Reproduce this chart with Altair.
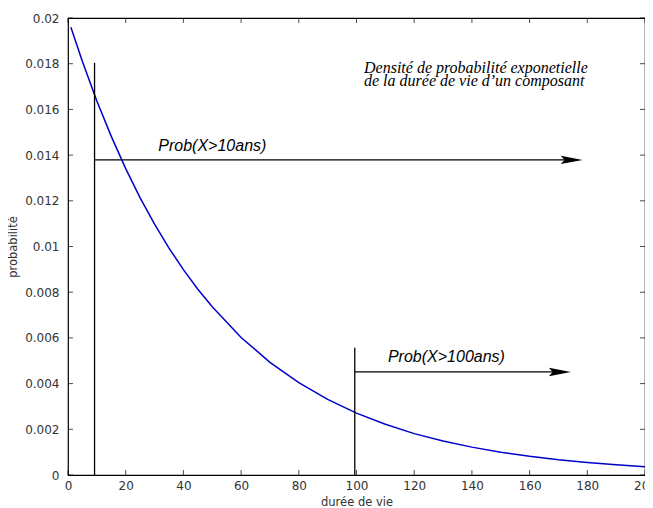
import altair as alt
import pandas as pd

# courbe
duree = [1, 5, 10, 15, 20, 25, 30, 35, 40, 45, 50, 60, 70, 80, 90, 100,
         110, 120, 130, 140, 150, 160, 170, 180, 190, 200]
proba = [0.0196, 0.0181, 0.01637, 0.01482, 0.01341, 0.01213, 0.01098, 0.00993,
         0.00899, 0.00813, 0.00736, 0.00602, 0.00493, 0.00404, 0.00331, 0.00271,
         0.00222, 0.00181, 0.00149, 0.00122, 0.00100, 0.00082, 0.00067, 0.00055,
         0.00045, 0.00036]

x_ticks = [0, 20, 40, 60, 80, 100, 120, 140, 160, 180, 200]
y_ticks = [0, 0.002, 0.004, 0.006, 0.008, 0.01, 0.012, 0.014, 0.016, 0.018, 0.02]

seuil_x = [9.2, 99.4]
seuil_haut = [0.01804, 0.00557]
fleche_y = [0.01379, 0.00451]
fleche_fin = [178.4, 174.3]

labels = ["Prob(X>10ans)", "Prob(X>100ans)"]
label_x = [31.3, 110.9]
label_y = [0.01418, 0.00493]

titre_lignes = ["Densité de probabilité exponetielle",
                "de la durée de vie d\u2019un composant"]
titre_x = [102.6]
titre_y = [0.01759]

W, H = 577, 457

xs = alt.Scale(domain=[0, 200], nice=False, zero=False)
ys = alt.Scale(domain=[0, 0.02], nice=False, zero=False)

font = "DejaVu Sans"
ax_x = alt.Axis(
    values=x_ticks, ticks=False, domain=False, grid=False, title="durée de vie",
    labelFont=font, labelFontSize=12, labelColor="#333", labelPadding=5,
    labelFlush=False, titleFont=font, titleFontSize=11.5, titleFontWeight="normal",
    titleColor="#333", titlePadding=14, titleBaseline="alphabetic", format="d")
ax_y = alt.Axis(
    values=y_ticks, ticks=False, domain=False, grid=False, title="probabilité",
    labelFont=font, labelFontSize=12, labelColor="#333", labelPadding=9,
    labelFlush=False, titleFont=font, titleFontSize=11.5, titleFontWeight="normal",
    titleColor="#333", titlePadding=6, format="~g")

courbe_df = pd.DataFrame({"x": duree, "y": proba})
seuil_df = pd.DataFrame({"x": seuil_x, "y": [0, 0], "y1": seuil_haut,
                         "ya": fleche_y, "xe": fleche_fin})
label_df = pd.DataFrame({"x": label_x, "y": label_y, "t": labels})
titre_df = pd.DataFrame({"x": titre_x, "y": titre_y, "t": ["\n".join(titre_lignes)]})
xt_df = pd.DataFrame({"x": x_ticks})
yt_df = pd.DataFrame({"y": y_ticks})


def X(f):
    return alt.X(f, type="quantitative", scale=xs, axis=ax_x)


def Y(f):
    return alt.Y(f, type="quantitative", scale=ys, axis=ax_y)


courbe = alt.Chart(courbe_df).mark_line(color="#0000cc", strokeWidth=1.5).encode(
    x=X("x"), y=Y("y"))

vlines = alt.Chart(seuil_df).mark_rule(color="black", strokeWidth=1.3).encode(
    x=X("x"), y=Y("y"), y2="y1:Q")

hlines = alt.Chart(seuil_df).mark_rule(color="black", strokeWidth=1.3, x2Offset=-12).encode(
    x=X("x"), x2="xe:Q", y=Y("ya"))

arrow_path = "M1,0 L-1,-0.38 L-0.65,0 L-1,0.38 Z"
heads = alt.Chart(seuil_df).mark_point(
    shape=arrow_path, filled=True, color="black", size=484, opacity=1,
    xOffset=-11, strokeWidth=0).encode(x=X("xe"), y=Y("ya"))

lbl = alt.Chart(label_df).mark_text(
    font="Liberation Sans", fontStyle="italic", fontSize=16, align="left",
    baseline="alphabetic", color="black").encode(x=X("x"), y=Y("y"), text="t:N")

titre = alt.Chart(titre_df).mark_text(
    font="Liberation Serif", fontStyle="italic", fontSize=16, align="left",
    baseline="alphabetic", lineBreak="\n", lineHeight=13, color="black").encode(
    x=X("x"), y=Y("y"), text="t:N")

tick_top = alt.Chart(xt_df).mark_tick(orient="vertical", size=5, thickness=1, color="black").encode(
    x=X("x"), y=alt.value(2.5))
tick_bot = alt.Chart(xt_df).mark_tick(orient="vertical", size=5, thickness=1, color="black").encode(
    x=X("x"), y=alt.value(H - 2.5))
tick_left = alt.Chart(yt_df).mark_tick(orient="horizontal", size=5, thickness=1, color="black").encode(
    y=Y("y"), x=alt.value(2.5))
tick_right = alt.Chart(yt_df).mark_tick(orient="horizontal", size=5, thickness=1, color="black").encode(
    y=Y("y"), x=alt.value(W - 2.5))

chart = alt.layer(
    courbe, vlines, hlines, heads, lbl, titre,
    tick_top, tick_bot, tick_left, tick_right
).properties(
    width=W, height=H,
    padding={"left": 60, "top": 10, "right": 0, "bottom": 33},
    autosize=alt.AutoSizeParams(type="none"),
    background="white",
).configure_view(stroke="black", strokeWidth=1.2)

chart.save("out.html", embed_options={"renderer": "svg", "actions": False})
